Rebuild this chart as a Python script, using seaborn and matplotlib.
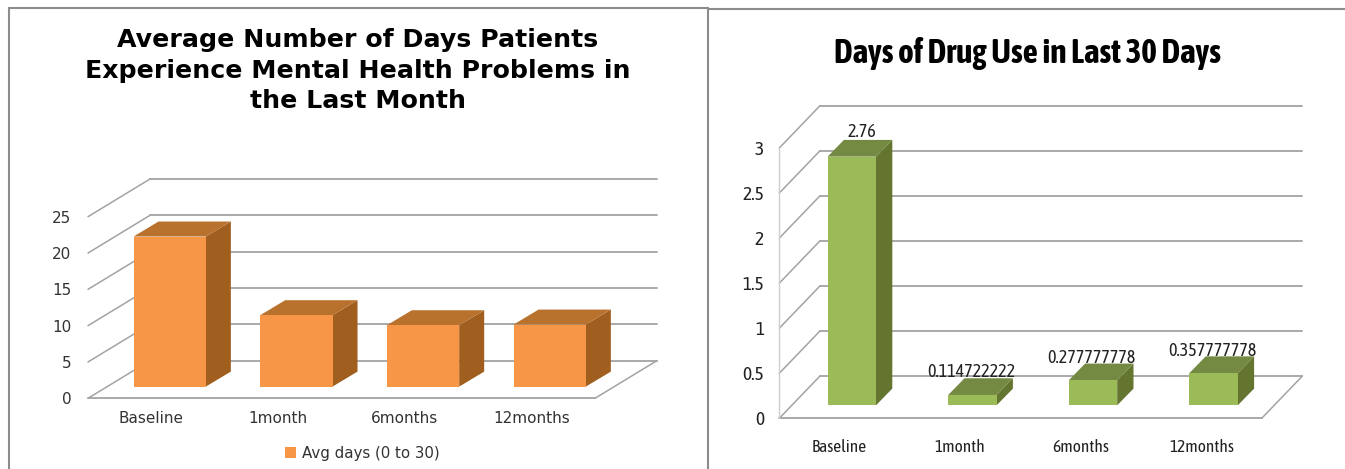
#recreating the two office style 3D bar charts
import seaborn as sns
import matplotlib
matplotlib.use("Agg")
import matplotlib.pyplot as plt
from matplotlib.lines import Line2D

W, H = 1345, 469

categories = ['Baseline', '1month', '6months', '12months']

#left chart values
mental_title = "Average Number of Days Patients\nExperience Mental Health Problems in\nthe Last Month"
mental_days = [20.66, 9.83, 8.45, 8.54]
mental_ticks = [0, 5, 10, 15, 20, 25]
mental_legend = 'Avg days (0 to 30)'

#right chart values
drug_title = "Days of Drug Use in Last 30 Days"
drug_days = [2.76, 0.114722222, 0.277777778, 0.357777778]
drug_ticks = [0, 0.5, 1, 1.5, 2, 2.5, 3]
drug_tick_labels = ['0', '0.5', '1', '1.5', '2', '2.5', '3']
drug_bar_labels = ['2.76', '0.114722222', '0.277777778', '0.357777778']

sns.set_theme(style="white")
NARROW = ['Asap Condensed', 'Liberation Sans', 'DejaVu Sans']
GRID = '#A3A3A3'


def make_axes(fig, x0, x1, y0, y1):
    #pixel box of the front plane of the chart
    return fig.add_axes([x0 / W, 1 - y0 / H, (x1 - x0) / W, (y0 - y1) / H])


def draw_3d_bars(ax, values, ticks, px_x, px_y, first_bar, left, right, bar_w, lift,
                 wall, side, colors, label=None):
    #front faces come from seaborn, the rest is built on top of the bars
    front, top_c, side_c = colors
    sns.barplot(x=categories, y=values, ax=ax, color=front, saturation=1, width=bar_w / px_x,
                bottom=lift / px_y, zorder=3, linewidth=0, label=label, clip_on=False)
    xmin = (left - first_bar) / px_x
    xmax = (right - first_bar) / px_x
    ax.set_xlim(xmin, xmax)
    ax.set_ylim(ticks[0], ticks[-1])
    wx, wy = wall[0] / px_x, wall[1] / px_y
    sx, sy = side[0] / px_x, side[1] / px_y

    #back wall lines and the slanted lines on the side wall
    for t in ticks:
        ax.plot([xmin + wx, xmax + wx], [t + wy, t + wy], color=GRID, lw=1.3, zorder=1, clip_on=False)
        ax.plot([xmin, xmin + wx], [t, t + wy], color=GRID, lw=1.1, zorder=1, clip_on=False)
    #floor
    ax.plot([xmin, xmax], [0, 0], color=GRID, lw=1.3, zorder=1, clip_on=False)
    ax.plot([xmax, xmax + wx], [0, wy], color=GRID, lw=1.1, zorder=1, clip_on=False)

    for p in ax.patches:
        x0, x1 = p.get_x(), p.get_x() + p.get_width()
        y0, y1 = p.get_y(), p.get_y() + p.get_height()
        ax.fill([x1, x1 + sx, x1 + sx, x1], [y0, y0 + sy, y1 + sy, y1], color=side_c, lw=0,
                zorder=2, clip_on=False)
        ax.fill([x0, x1, x1 + sx, x0 + sx], [y1, y1, y1 + sy, y1 + sy], color=top_c, lw=0,
                zorder=2, clip_on=False)

    #labels sit under the floor, not under the bars
    shift = (first_bar - (left + (right - left) / 8)) / px_x
    ax.set_xticks([i - shift for i in range(len(categories))])
    ax.set_xticklabels(categories)
    ax.set_yticks(ticks)
    ax.set_xlabel('')
    ax.set_ylabel('')
    ax.grid(False)
    sns.despine(ax=ax, left=True, bottom=True)
    ax.patch.set_alpha(0)


fig = plt.figure(figsize=(W / 100, H / 100), dpi=100, facecolor='white')

#left chart
ax1 = make_axes(fig, 88, 595, 398.3, 216.7)
draw_3d_bars(ax1, mental_days, mental_ticks, 126.67, 7.264, 169.7, 88, 595, 72.3, 11.7,
             (62, 37.7), (25, 15), ('#F79646', '#B9722D', '#A05F1E'), label=mental_legend)
ax1.tick_params(axis='y', length=0, pad=12, labelsize=11, labelcolor='#333333')
ax1.tick_params(axis='x', length=0, pad=9.5, labelsize=11, labelcolor='#333333')
ax1.legend(loc='center', bbox_to_anchor=(362 / W, 1 - 453 / H), bbox_transform=fig.transFigure,
           frameon=False, fontsize=10.8, handlelength=0.75, handleheight=0.75, handletextpad=0.4,
           labelcolor='#333333')
fig.text(358 / W, 1 - 70.5 / H, mental_title, ha='center', va='center', fontsize=18.2,
         fontweight='bold', color='black', linespacing=1.36)

#right chart
ax2 = make_axes(fig, 779.3, 1261.7, 418.3, 148)
draw_3d_bars(ax2, drug_days, drug_ticks, 120.6, 90.1, 851.8, 779.3, 1261.7, 48.4, 13,
             (40.7, 42.3), (16.3, 16.7), ('#9BBB59', '#748A43', '#63752F'))
ax2.plot([ax2.get_xlim()[0]] * 2, [0, 3], color='#CFCFCF', lw=1, zorder=1, clip_on=False)
ax2.tick_params(axis='y', length=0, pad=11, labelsize=14, labelcolor='#222222')
ax2.tick_params(axis='x', length=0, pad=15, labelsize=12.5, labelcolor='#222222')
ax2.set_yticklabels(drug_tick_labels, family=NARROW)
ax2.set_xticklabels(categories, family=NARROW)
for p, txt, nudge, up in zip(ax2.patches, drug_bar_labels, [7, -1, -1, -1], [18, 16.5, 16, 16]):
    ax2.annotate(txt, (p.get_x() + p.get_width() / 2, p.get_y() + p.get_height()),
                 xytext=(nudge, up), textcoords='offset points', ha='center', va='center',
                 fontsize=13, family=NARROW, color='#222222', zorder=5)
fig.text(1028 / W, 1 - 53.5 / H, drug_title, ha='center', va='center', fontsize=24,
         fontweight='bold', family=NARROW, color='black')

#chart frames
BORDER = '#8C8C8C'
for xs, ys in [((9, 9), (469, 8)), ((9, 708), (8, 8)), ((708, 708), (469, 8)), ((708, 1345), (9, 9))]:
    fig.add_artist(Line2D([x / W for x in xs], [1 - y / H for y in ys], color=BORDER, lw=1.5))

plt.savefig('out.png', dpi=100)
